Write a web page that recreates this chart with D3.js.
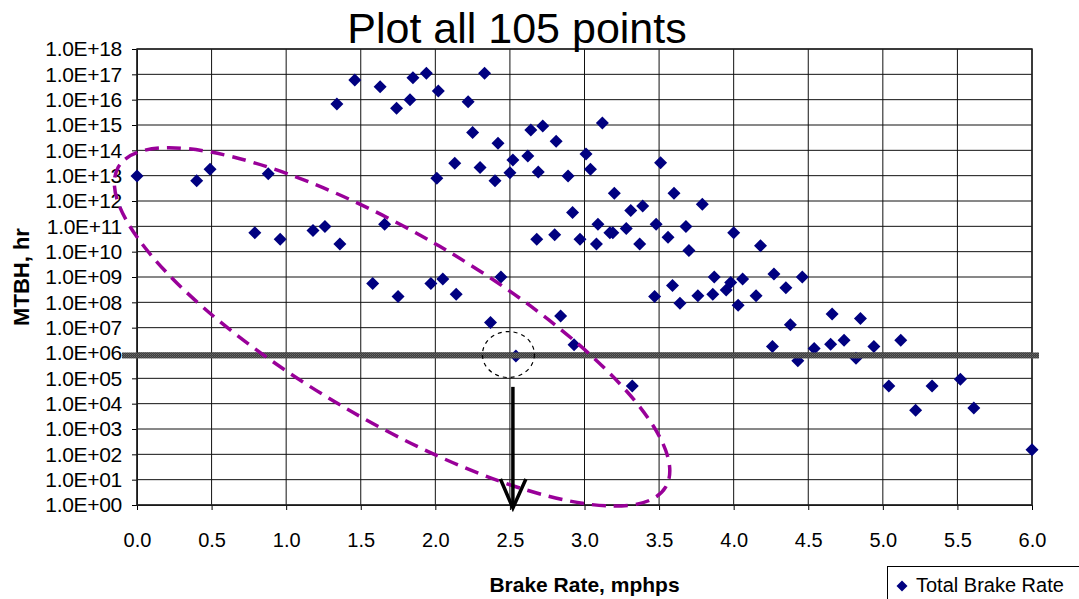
<!DOCTYPE html>
<html>
<head>
<meta charset="utf-8">
<script src="https://cdn.jsdelivr.net/npm/d3@7"></script>
<style>
  body { margin: 0; background: #fff; }
  text { font-family: "Liberation Sans", Arial, sans-serif; }
</style>
</head>
<body>
<svg id="chart" width="1079" height="599"></svg>
<script>
// Brake rate (mphps) of each run and its mean time between hazards (hours)
const brakeRate = [
  0.00, 0.40, 0.49, 0.88, 0.79, 0.96, 1.18, 1.26, 1.36, 1.34,
  1.46, 1.63, 1.74, 1.83, 1.85, 1.94, 2.02, 2.33, 2.22, 2.25,
  2.42, 2.13, 2.30, 2.01, 2.40, 2.50, 2.52, 2.62, 2.64, 2.72,
  2.81, 2.69, 2.89, 3.01, 3.04, 3.12, 3.51, 3.20, 3.31, 3.39,
  3.60, 2.92, 3.09, 3.17, 3.19, 3.28, 3.37, 3.48, 3.56, 3.68,
  3.70, 2.68, 2.80, 2.97, 3.08, 1.66, 3.79, 4.00, 4.18, 3.87,
  3.76, 3.64, 3.86, 3.95, 3.98, 4.06, 4.03, 4.15, 4.27, 4.35,
  4.46, 4.38, 4.26, 4.43, 4.54, 4.65, 4.66, 4.74, 4.82, 4.85,
  4.94, 5.12, 5.04, 5.22, 5.33, 5.52, 5.61, 6.00, 1.58, 1.75,
  1.97, 2.05, 2.14, 2.44, 2.37, 2.54, 2.84, 2.93, 3.32, 3.47,
  3.59
];
const mtbh = [
  9.8e12, 6.3e12, 1.8e13, 1.2e13, 5.6e10, 3.1e10, 6.8e10, 9.8e10, 2.0e10, 6.8e15,
  6.0e16, 3.2e16, 4.6e15, 1.0e16, 7.4e16, 1.1e17, 2.2e16, 1.1e17, 8.3e15, 5.1e14,
  1.9e14, 3.1e13, 2.1e13, 7.9e12, 6.3e12, 1.3e13, 4.2e13, 6.0e13, 6.3e14, 9.1e14,
  2.3e14, 1.4e13, 9.8e12, 7.2e13, 1.8e13, 1.2e15, 3.2e13, 2.0e12, 4.2e11, 6.3e11,
  2.0e12, 3.5e11, 1.2e11, 5.6e10, 5.6e10, 8.3e10, 2.0e10, 1.2e11, 3.7e10, 9.8e10,
  1.1e10, 3.1e10, 4.7e10, 3.1e10, 2.0e10, 1.2e11, 7.4e11, 5.6e10, 1.7e10, 1.0e9,
  1.8e8, 9.1e7, 2.1e8, 3.1e8, 6.0e8, 8.3e8, 7.6e7, 1.8e8, 1.3e9, 3.8e8,
  1.0e9, 1.3e7, 1.8e6, 5.0e5, 1.5e6, 2.2e6, 3.5e7, 3.2e6, 6.2e5, 2.3e7,
  1.8e6, 3.2e6, 5.0e4, 5.5e3, 5.0e4, 9.1e4, 6.8e3, 1.5e2, 5.6e8, 1.7e8,
  5.6e8, 8.3e8, 2.1e8, 1.0e9, 1.6e7, 7.6e5, 2.9e7, 2.1e6, 5.0e4, 1.7e8,
  4.6e8
];
const xTicks = [0, 0.5, 1, 1.5, 2, 2.5, 3, 3.5, 4, 4.5, 5, 5.5, 6];
const yExponents = d3.range(0, 19);
const yTicks = yExponents.map(e => Math.pow(10, e));

// Annotations
const thresholdMTBH = 8e5;          // required MTBH band
const ellipseCenter = [1.71, 1.07e7];
const circleCenter = [2.49, 8.7e5];
const arrowX = 2.52;
const arrowFrom = 4.6e4;

const svg = d3.select("#chart");
const x = d3.scaleLinear().domain([0, 6]).range([137, 1032]);
const y = d3.scaleLog().domain([1, 1e18]).range([505, 49]);

svg.append("rect").attr("width", 1079).attr("height", 599).attr("fill", "#fff");

// band texture
const defs = svg.append("defs");
const pat = defs.append("pattern").attr("id", "bandTex")
  .attr("width", 2).attr("height", 2).attr("patternUnits", "userSpaceOnUse");
pat.append("rect").attr("width", 2).attr("height", 2).attr("fill", "#3c3c3c");
pat.append("rect").attr("width", 1).attr("height", 1).attr("fill", "#6e6e6e");
pat.append("rect").attr("x", 1).attr("y", 1).attr("width", 1).attr("height", 1).attr("fill", "#5a5a5a");

// grid
const grid = svg.append("g");
grid.selectAll("line.h").data(yTicks).join("line")
  .attr("x1", x(0)).attr("x2", x(6))
  .attr("y1", d => y(d)).attr("y2", d => y(d))
  .attr("stroke", "#111").attr("stroke-width", 1);
grid.selectAll("line.v").data(xTicks).join("line")
  .attr("y1", y(1)).attr("y2", y(1e18))
  .attr("x1", d => x(d)).attr("x2", d => x(d))
  .attr("stroke", "#111").attr("stroke-width", 1);

// axes
const fmt = d => "1.0E+" + String(Math.round(Math.log10(d))).padStart(2, "0");
const yAxis = svg.append("g").attr("transform", `translate(${x(0)},0)`)
  .call(d3.axisLeft(y).tickValues(yTicks).tickFormat(fmt).tickSize(5).tickPadding(10));
const xAxis = svg.append("g").attr("transform", `translate(0,${y(1)})`)
  .call(d3.axisBottom(x).tickValues(xTicks).tickFormat(d3.format(".1f")).tickSize(5).tickPadding(23));
[yAxis, xAxis].forEach(a => {
  a.select(".domain").attr("stroke", "#000");
  a.selectAll(".tick line").attr("stroke", "#000");
  a.selectAll("text").attr("font-size", 20).attr("fill", "#000")
    .attr("font-family", "'Liberation Sans', Arial, sans-serif");
});
yAxis.selectAll("text").attr("font-size", 21).attr("letter-spacing", -0.3);

// frame
svg.append("rect").attr("x", x(0)).attr("y", y(1e18))
  .attr("width", x(6) - x(0)).attr("height", y(1) - y(1e18))
  .attr("fill", "none").attr("stroke", "#222").attr("stroke-width", 1.5);

// diamonds
const diamond = r => `M0,${-r}L${r},0L0,${r}L${-r},0Z`;
svg.append("g").selectAll("path").data(brakeRate).join("path")
  .attr("d", diamond(6.5))
  .attr("transform", (d, i) => `translate(${x(d)},${y(mtbh[i])})`)
  .attr("fill", "#000080");

// threshold band
svg.append("rect")
  .attr("x", x(0) - 15).attr("width", x(6) - x(0) + 22)
  .attr("y", y(thresholdMTBH) - 3).attr("height", 6)
  .attr("fill", "url(#bandTex)");

// dashed ellipse
svg.append("ellipse")
  .attr("cx", x(ellipseCenter[0])).attr("cy", y(ellipseCenter[1]))
  .attr("rx", 317).attr("ry", 93.6)
  .attr("transform", `rotate(30.3,${x(ellipseCenter[0])},${y(ellipseCenter[1])})`)
  .attr("fill", "none").attr("stroke", "#990099").attr("stroke-width", 3.5)
  .attr("stroke-dasharray", "14,8");

// dotted circle
svg.append("ellipse")
  .attr("cx", x(circleCenter[0])).attr("cy", y(circleCenter[1]))
  .attr("rx", 26).attr("ry", 23)
  .attr("fill", "none").attr("stroke", "#000").attr("stroke-width", 1.2)
  .attr("stroke-dasharray", "4,4");

// arrow down to the axis
const ax = x(arrowX), tipY = y(1) + 3;
svg.append("line").attr("x1", ax).attr("x2", ax)
  .attr("y1", y(arrowFrom)).attr("y2", tipY - 2)
  .attr("stroke", "#000").attr("stroke-width", 3.5);
svg.append("path")
  .attr("d", `M${ax - 12.5},${tipY - 29}L${ax},${tipY}L${ax + 13},${tipY - 29}`)
  .attr("fill", "none").attr("stroke", "#000").attr("stroke-width", 3.5);

// titles
svg.append("text").attr("x", 517).attr("y", 43).attr("text-anchor", "middle")
  .attr("font-size", 43).text("Plot all 105 points");
svg.append("text").attr("x", (x(0) + x(6)) / 2).attr("y", 592).attr("text-anchor", "middle")
  .attr("font-size", 21).attr("font-weight", "bold").text("Brake Rate, mphps");
svg.append("text").attr("transform", `translate(29,${(y(1) + y(1e18)) / 2}) rotate(-90)`)
  .attr("text-anchor", "middle").attr("font-size", 22).attr("font-weight", "bold").text("MTBH, hr");

// legend
const lg = svg.append("g");
lg.append("rect").attr("x", 887.5).attr("y", 566.5).attr("width", 200).attr("height", 40)
  .attr("fill", "#fff").attr("stroke", "#000");
lg.append("path").attr("d", diamond(5.5)).attr("transform", "translate(902,586)").attr("fill", "#000080");
lg.append("text").attr("x", 916).attr("y", 592).attr("font-size", 20).text("Total Brake Rate");
</script>
</body>
</html>
